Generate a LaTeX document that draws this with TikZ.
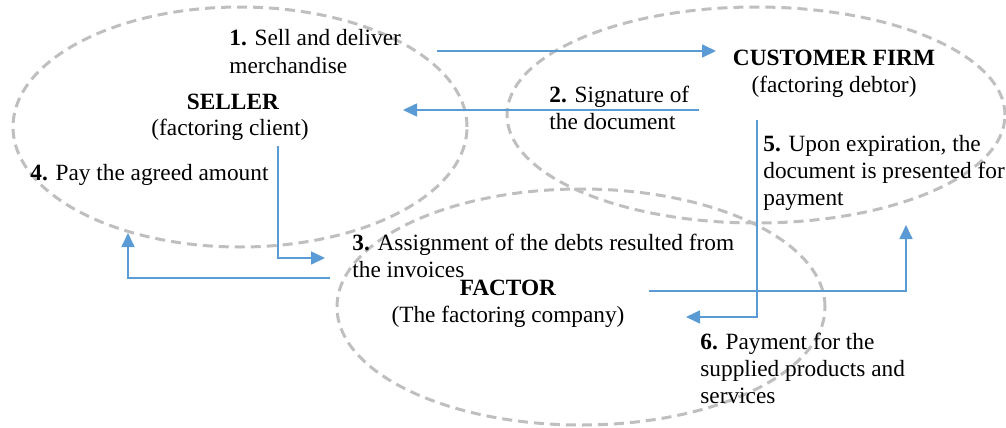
\documentclass[tikz,border=0pt]{standalone}
\usepackage{fontspec}
\setmainfont{Liberation Serif}
\usetikzlibrary{shapes.geometric,arrows.meta}
\definecolor{lineblue}{HTML}{5B9BD5}
\definecolor{dashgray}{HTML}{BFBFBF}
\tikzset{
  ell/.style={draw=dashgray, line width=1.5pt, dash pattern=on 5pt off 3pt, ellipse, inner sep=0pt},
  arr/.style={draw=lineblue, line width=0.85pt, -{Triangle[length=7pt,width=6.5pt]}},
  lbl/.style={anchor=base west, align=left, inner sep=0pt, font=\fontsize{11.65pt}{13.5pt}\selectfont},
  ttl/.style={anchor=base, align=center, inner sep=0pt, font=\fontsize{11.65pt}{13.5pt}\selectfont}
}
\begin{document}
\begin{tikzpicture}[x=0.5pt,y=-0.5pt]
\useasboundingbox (0,0) rectangle (1006,428);
% ellipses
\node[ell, minimum width=227pt, minimum height=120pt] (sellerE) at (240,127) {};
\node[ell, minimum width=249pt, minimum height=108pt] (custE) at (756,115) {};
\node[ell, minimum width=244pt, minimum height=118pt] (factE) at (581,307) {};
% titles
\node[ttl] (seller) at (233,109) {\textbf{SELLER}};
\node[ttl] (sellersub) at (230,135) {(factoring client)};
\node[ttl] (cust) at (834,65) {\textbf{CUSTOMER FIRM}};
\node[ttl] (custsub) at (834,92) {(factoring debtor)};
\node[ttl] (fact) at (508,295) {\textbf{FACTOR}};
\node[ttl] (factsub) at (508,322) {(The factoring company)};
% labels (base = baseline of last line)
\node[lbl] (l1) at (229,73) {\textbf{1.} Sell and deliver\\merchandise};
\node[lbl] (l2) at (549,129) {\textbf{2.} Signature of\\the document};
\node[lbl] (l3) at (352,277) {\textbf{3.} Assignment of the debts resulted from\\the invoices};
\node[lbl] (l4) at (30,180) {\textbf{4.} Pay the agreed amount};
\node[lbl] (l5) at (763,205) {\textbf{5.} Upon expiration, the\\document is presented for\\payment};
\node[lbl] (l6) at (700,403) {\textbf{6.} Payment for the\\supplied products and\\services};
% connector endpoints
\coordinate (a1s) at (437,51);
\coordinate (a1e) at (716,51);
\coordinate (a2s) at (699,110);
\coordinate (a2e) at (403,110);
\coordinate (a3s) at (278,146);
\coordinate (a3e) at (325,258);
\coordinate (a4s) at (330,278);
\coordinate (a4e) at (128,233);
\coordinate (a5s) at (757,120);
\coordinate (a5e) at (686,317);
\coordinate (a6s) at (649,291);
\coordinate (a6e) at (906,225);
% connectors
\draw[arr] (a1s) -- (a1e);
\draw[arr] (a2s) -- (a2e);
\draw[arr] (a3s) |- (a3e);
\draw[arr] (a4s) -| (a4e);
\draw[arr] (a5s) |- (a5e);
\draw[arr] (a6s) -| (a6e);
\end{tikzpicture}
\end{document}
